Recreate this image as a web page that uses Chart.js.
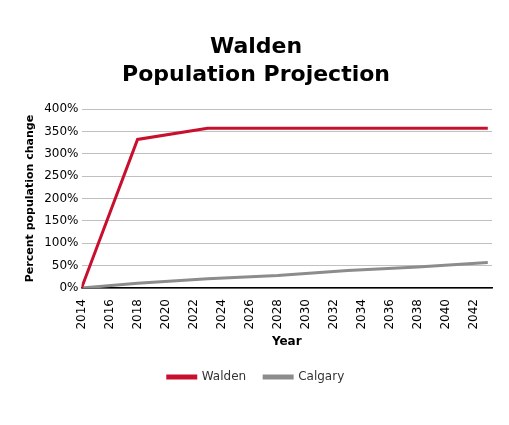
<!DOCTYPE html>
<html><head><meta charset="utf-8">
<script src="https://cdn.jsdelivr.net/npm/chart.js@4"></script>
<style>body{margin:0;background:#fff}#w{width:509px;height:425px}</style>
</head><body><div id="w"><canvas id="c"></canvas></div>
<script>
// Walden vs Calgary projected population change (%)
const waldenYears = [2014, 2018, 2023, 2043];
const waldenValues = [0, 332, 357, 357];
const calgaryYears = [2014, 2018, 2023, 2028, 2033, 2038, 2043];
const calgaryValues = [0, 11, 21, 28, 39, 47, 57];

const toPts = (xs, ys) => xs.map((x, i) => ({ x: x, y: ys[i] }));
const font = "'DejaVu Sans', sans-serif";

new Chart(document.getElementById("c"), {
  type: "line",
  data: {
    datasets: [
      { label: "Walden", data: toPts(waldenYears, waldenValues), borderColor: "#c8102e", backgroundColor: "#c8102e", borderWidth: 3, pointRadius: 0, tension: 0 },
      { label: "Calgary", data: toPts(calgaryYears, calgaryValues), borderColor: "#8c8c8c", backgroundColor: "#8c8c8c", borderWidth: 3, pointRadius: 0, tension: 0 }
    ]
  },
  options: {
    responsive: true,
    maintainAspectRatio: false,
    animation: false,
    layout: { padding: { left: 20, right: 17, top: 34, bottom: 32 } },
    plugins: {
      title: { display: true, text: ["Walden", "Population Projection"], color: "#000", font: { family: font, size: 22, weight: "bold", lineHeight: 1.25 }, padding: { bottom: 20 } },
      legend: { position: "bottom", labels: { boxWidth: 28, boxHeight: 2, color: "#333", font: { family: font, size: 12 }, padding: 18 } }
    },
    scales: {
      x: {
        type: "linear", min: 2014, max: 2043.3,
        afterBuildTicks: a => { a.ticks = []; for (let y = 2014; y <= 2042; y += 2) a.ticks.push({ value: y }); },
        ticks: { color: "#000", font: { family: font, size: 12 }, maxRotation: 90, minRotation: 90, callback: v => String(v) },
        grid: { display: false },
        border: { color: "#000", width: 1.5 },
        title: { display: true, text: "Year", color: "#000", font: { family: font, size: 12, weight: "bold" }, padding: { top: 2 } }
      },
      y: {
        min: 0, max: 400,
        ticks: { stepSize: 50, color: "#000", font: { family: font, size: 12 }, callback: v => v + "%" },
        grid: { color: "#c0c0c0", drawTicks: false },
        border: { display: false },
        title: { display: true, text: "Percent population change", color: "#000", font: { family: font, size: 11, weight: "bold" } }
      }
    }
  }
});
</script></body></html>
